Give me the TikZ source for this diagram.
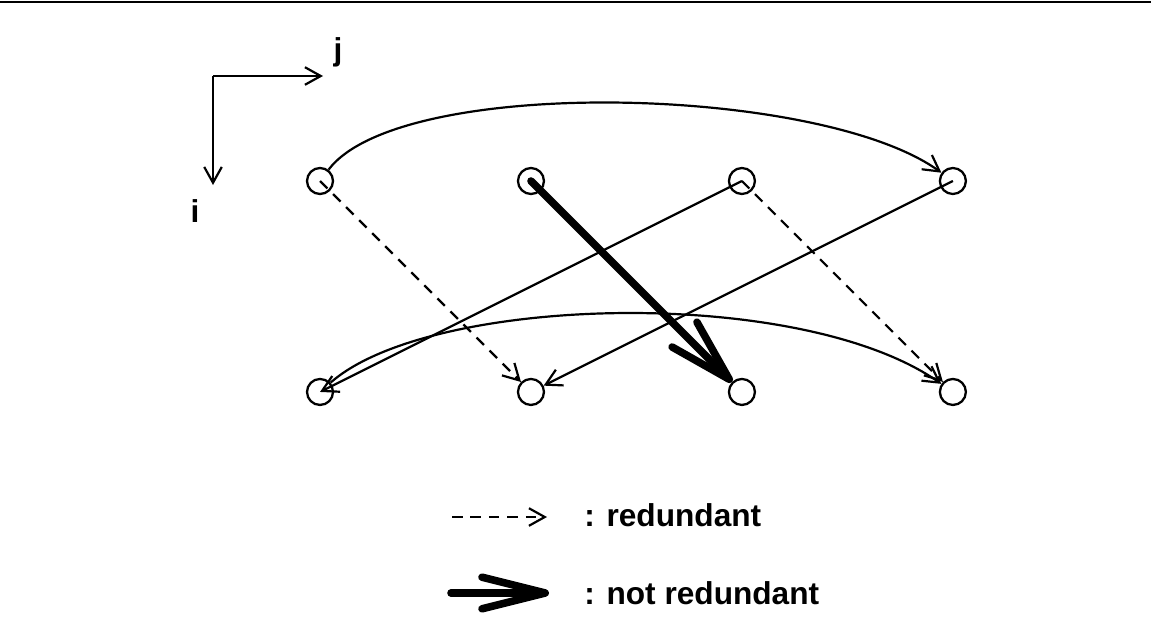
\documentclass[tikz,border=0pt]{standalone}
\usepackage{fontspec}
\setmainfont{Liberation Sans}
\usetikzlibrary{positioning, arrows.meta}

\tikzset{
  pt/.style={draw, circle, line width=1.3pt, minimum size=0.52cm, inner sep=0pt},
  dep/.style={line width=1.25pt, -{Straight Barb[length=9pt,width=10pt]}},
  redund/.style={dep, dash pattern=on 6pt off 4.5pt},
  notredund/.style={line width=4.3pt, line cap=round,
    -{Straight Barb[length=36pt,width=20pt,round]}},
  lbl/.style={font=\fontsize{18}{21}\selectfont\bfseries, inner sep=0pt}
}

\begin{document}
\begin{tikzpicture}[x=0.02cm, y=-0.02cm, node distance=4.22cm]
\useasboundingbox (0,0) rectangle (1151,625);
\draw[line width=1.7pt] (0,2) -- (1151,2);

% axes
\coordinate (o) at (213,76);
\coordinate (oj) at (323,76);
\coordinate (oi) at (213,185);
\draw[dep] (o) -- (oj);
\draw[dep] (o) -- (oi);
\node[lbl] (j) at (338,52) {j};
\node[lbl] (i) at (195,211) {i};

% iterations
\node[pt] (t1) at (320,181) {};
\node[pt, right of=t1] (t2) {};
\node[pt, right of=t2] (t3) {};
\node[pt, right of=t3] (t4) {};
\node[pt, below of=t1] (b1) {};
\node[pt, right of=b1] (b2) {};
\node[pt, right of=b2] (b3) {};
\node[pt, right of=b3] (b4) {};

\draw[dep] (t1) .. controls (400,75) and (820,85) .. (t4);
\draw[dep] (b1) .. controls (430,295) and (800,285) .. (b4);
\draw[dep] (t3.center) -- (b1.center);
\draw[dep] (t4.center) -- (b2);
\draw[redund] (t1.center) -- (b2);
\draw[redund] (t3.center) -- (b4);
\draw[notredund] (t2.center) -- (b3);

% legend
\coordinate (r0) at (452,517);
\coordinate (r1) at (547,517);
\coordinate (n0) at (451,593);
\coordinate (n1) at (549,593);
\draw[redund] (r0) -- (r1);
\draw[notredund, -{Straight Barb[length=36pt,width=18pt,round]}] (n0) -- (n1);
\node[lbl, anchor=west] (rt) at (584,515) {: redundant};
\node[lbl, anchor=west] (nt) at (584,593) {: not redundant};
\end{tikzpicture}
\end{document}
